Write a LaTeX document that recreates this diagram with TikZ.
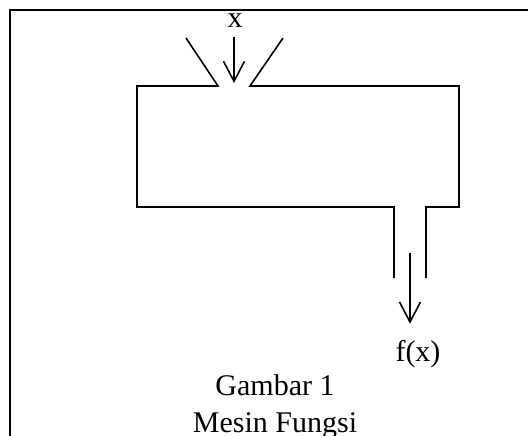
\documentclass[tikz,border=0pt]{standalone}
\usepackage{fontspec}
\setmainfont{Liberation Serif}
\usetikzlibrary{arrows.meta}

\begin{document}
\begin{tikzpicture}[x=1pt,y=-1pt,line join=miter,
  every node/.style={font=\fontsize{30}{36}\selectfont, inner sep=0pt},
  wall/.style={line width=1.6pt},
  arr/.style={line width=1.6pt, -{Straight Barb[length=20pt,width=21pt,line width=1.6pt]}}]
\useasboundingbox (0,0) rectangle (528,436);

% frame
\draw [line width=2.2pt] (528,10) -- (10,10) -- (10,436);

% machine
\draw [wall] (186,38) -- (218,86) -- (137,86) -- (137,207) -- (394,207) -- (394,278);
\draw [wall] (283,38) -- (250,86) -- (459,86) -- (459,207) -- (426,207) -- (426,278);

\path (235,28) node (xin) [anchor=base] {x};
\path (234,83) coordinate (xtip);
\path (410,253) coordinate (chute);
\path (418,361) node (fx) [anchor=base] {f(x)};

\draw [arr, shorten <=9pt] (xin.south -| xtip) -- (xtip);
\draw [arr, shorten >=16pt] (chute) -- (chute |- fx.north);

\path (275,395) node (cap1) [anchor=base] {Gambar 1};
\path (275,432) node (cap2) [anchor=base] {Mesin Fungsi};

\end{tikzpicture}
\end{document}
